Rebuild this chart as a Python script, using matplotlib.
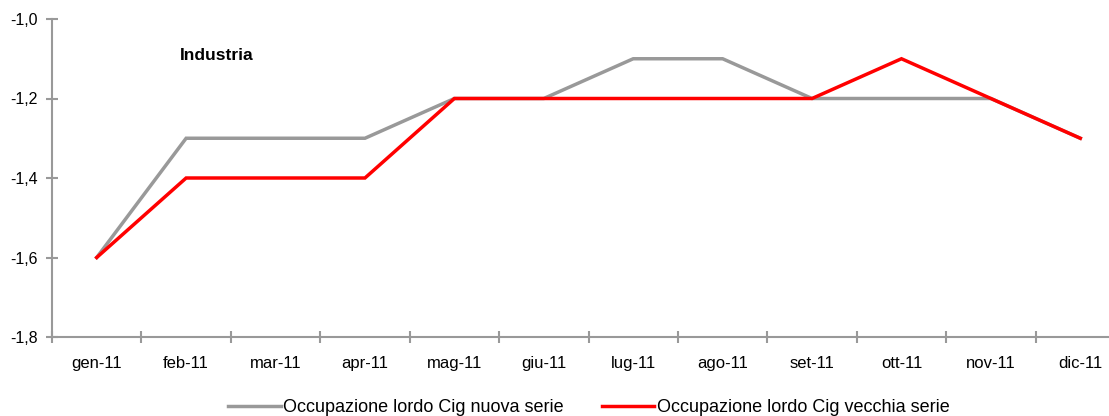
import matplotlib
matplotlib.use("Agg")
import matplotlib.pyplot as plt

months = ["gen-11", "feb-11", "mar-11", "apr-11", "mag-11", "giu-11",
          "lug-11", "ago-11", "set-11", "ott-11", "nov-11", "dic-11"]
nuova = [-1.6, -1.3, -1.3, -1.3, -1.2, -1.2, -1.1, -1.1, -1.2, -1.2, -1.2, -1.3]
vecchia = [-1.6, -1.4, -1.4, -1.4, -1.2, -1.2, -1.2, -1.2, -1.2, -1.1, -1.2, -1.3]
yticks = [-1.8, -1.6, -1.4, -1.2, -1.0]
ytick_labels = ["-1,8", "-1,6", "-1,4", "-1,2", "-1,0"]

plt.rcParams['font.family'] = ['Liberation Sans', 'DejaVu Sans']

fig = plt.figure(figsize=(11.09, 4.16), dpi=100)
ax = fig.add_axes([52/1109, 79/416, 1073/1109, 318/416])

x = list(range(len(months)))
ax.plot(x, nuova, color="#999999", lw=2.5, label="Occupazione lordo Cig nuova serie",
        clip_on=False, solid_joinstyle='miter')
ax.plot(x, vecchia, color="#ff0000", lw=2.5, label="Occupazione lordo Cig vecchia serie",
        clip_on=False, solid_joinstyle='miter')

ax.set_xlim(-0.5, 11.5)
ax.set_ylim(-1.8, -1.0)
ax.set_yticks(yticks)
ax.set_yticklabels(ytick_labels, fontsize=11.5)
ax.set_xticks(x)
ax.set_xticklabels(months, fontsize=12)
ax.set_xticks([i - 0.5 for i in range(13)], minor=True)
ax.tick_params(axis='x', which='major', length=0, pad=14)
ax.tick_params(axis='x', which='minor', length=8, direction='inout', color="#999999", width=1.5)
ax.tick_params(axis='y', length=8, direction='inout', color="#999999", width=1.5, pad=6)

for s in ["top", "right"]:
    ax.spines[s].set_visible(False)
for s in ["left", "bottom"]:
    ax.spines[s].set_color("#999999")
    ax.spines[s].set_linewidth(1.5)

fig.text(180/1109, 1 - 56/416, "Industria", fontsize=12.5, fontweight='bold', va='center', ha='left')

fig.legend(loc='center', bbox_to_anchor=(589/1109, 1 - 408/416), ncol=2, frameon=False,
           fontsize=13, handlelength=2.9, columnspacing=2.1, handletextpad=0.15)

fig.savefig("out.png", dpi=100)
